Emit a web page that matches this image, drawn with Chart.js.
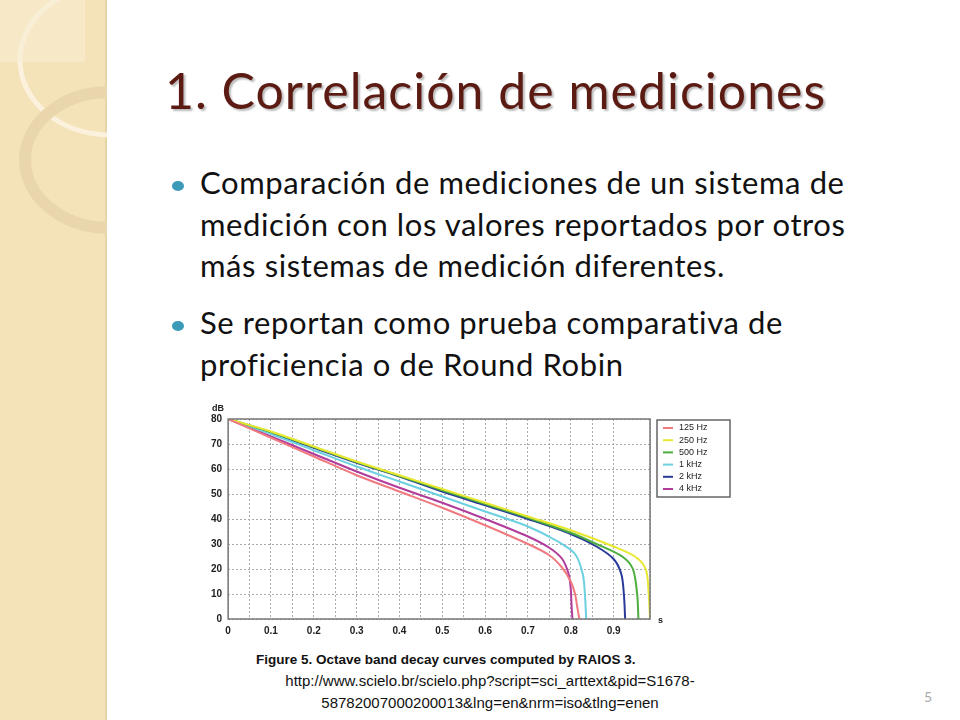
<!DOCTYPE html>
<html><head><meta charset="utf-8">
<script src="https://cdn.jsdelivr.net/npm/chart.js@4"></script>
<style>
body{margin:0;width:960px;height:720px;background:#fff;position:relative;overflow:hidden;font-family:Lato,"Open Sans",sans-serif}
#band{position:absolute;left:0;top:0;width:105px;height:720px;background:#f4e2b8;border-right:2px solid #e6d3a6}
#title{position:absolute;left:165px;top:60px;font-size:50px;letter-spacing:1px;color:#5b1a12;text-shadow:2px 2px 2px #bbb;white-space:nowrap}
.b{position:absolute;left:200px;font-size:31px;letter-spacing:0.6px;color:#111;line-height:41.5px;white-space:nowrap}
.dot{position:absolute;left:172px;width:12px;height:10px;border-radius:50%;background:#3a9ab8}
#cw{position:absolute;left:205px;top:395px;width:535px;height:248px}
#cap{position:absolute;left:256px;top:652px;font:bold 13.5px "Liberation Sans",Arial,sans-serif;color:#111}
#url{position:absolute;left:200px;top:670px;width:580px;text-align:center;font:15px "Liberation Sans",Arial,sans-serif;color:#111;line-height:22px}
#pg{position:absolute;left:924px;top:688px;font-size:14px;color:#aaa}
</style></head><body>
<div id="band"><svg width="107" height="720">
<ellipse cx="110" cy="60" rx="90" ry="75" fill="none" stroke="#fbf1dc" stroke-width="5"/>
<ellipse cx="110" cy="160" rx="85" ry="68" fill="none" stroke="#e9d6ac" stroke-width="12"/>
<rect x="0" y="0" width="85" height="62" fill="#f8ecd2" opacity="0.6"/>
</svg></div>
<div id="title">1. Correlación de mediciones</div>
<div class="dot" style="top:181px"></div>
<div class="b" style="top:162px">Comparación de mediciones de un sistema de<br>medición con los valores reportados por otros<br>más sistemas de medición diferentes.</div>
<div class="dot" style="top:321px"></div>
<div class="b" style="top:302px">Se reportan como prueba comparativa de<br>proficiencia o de Round Robin</div>
<div id="cw"><canvas id="c"></canvas></div>
<div id="cap">Figure 5. Octave band decay curves computed by RAIOS 3.</div>
<div id="url">http://www.scielo.br/scielo.php?script=sci_arttext&amp;pid=S1678-<br>58782007000200013&amp;lng=en&amp;nrm=iso&amp;tlng=enen</div>
<div id="pg">5</div>
<script>
const seriesNames=["125 Hz","250 Hz","500 Hz","1 kHz","2 kHz","4 kHz"];
const seriesColors=["#f07a80","#e8e830","#4cae3c","#6cd0e0","#2a3a9a","#b03c9c"];
const s125=[[0,80],[0.1,72.5],[0.2,65],[0.3,57.5],[0.4,51],[0.5,44.5],[0.6,37.5],[0.7,30],[0.75,25.5],[0.78,20.5],[0.8,15],[0.81,10],[0.815,5],[0.82,0]];
const s250=[[0,80],[0.1,75],[0.2,69],[0.3,63],[0.4,57.5],[0.5,52],[0.6,46.5],[0.7,41],[0.8,35.5],[0.9,29],[0.95,25],[0.975,20],[0.982,10],[0.985,0]];
const s500=[[0,80],[0.1,74.8],[0.2,68.8],[0.3,62.8],[0.4,57.2],[0.5,51.5],[0.6,46],[0.7,40.5],[0.8,34.5],[0.86,30],[0.92,25],[0.945,20],[0.955,10],[0.958,0]];
const s1k=[[0,80],[0.1,74],[0.2,67.5],[0.3,61],[0.4,55],[0.5,49],[0.6,43],[0.7,37],[0.77,31],[0.81,26],[0.828,18],[0.833,10],[0.836,0]];
const s2k=[[0,80],[0.1,74.5],[0.2,68.5],[0.3,62.5],[0.4,57],[0.5,51],[0.6,45.5],[0.7,40],[0.8,34],[0.86,29],[0.9,24],[0.918,18],[0.924,10],[0.927,0]];
const s4k=[[0,80],[0.1,73],[0.2,66],[0.3,59],[0.4,52.5],[0.5,46.5],[0.6,40],[0.7,33],[0.75,28.5],[0.78,24],[0.795,18],[0.8,12],[0.802,5],[0.804,0]];
const seriesData=[s125,s250,s500,s1k,s2k,s4k];
const extras={id:'ex',afterDraw(ch){const c=ch.ctx,a=ch.chartArea;c.save();
 c.strokeStyle='#777';c.lineWidth=1.5;c.strokeRect(a.left,a.top,a.right-a.left,a.bottom-a.top);
 c.fillStyle='#222';c.font='bold 9px "Liberation Sans"';c.textAlign='center';c.textBaseline='bottom';c.fillText('dB',a.left-10,a.top-6);
 c.textAlign='left';c.textBaseline='middle';c.fillText('s',a.right+8,a.bottom+2);
 const lx=a.right+7,ly=a.top+1,lw=73,lh=77;c.fillStyle='#fff';c.fillRect(lx,ly,lw,lh);c.strokeStyle='#666';c.lineWidth=1.5;c.strokeRect(lx,ly,lw,lh);
 c.font='9px "Liberation Sans"';
 ch.data.datasets.forEach((d,i)=>{const y=ly+8+i*12.2;c.strokeStyle=d.borderColor;c.lineWidth=2;c.beginPath();c.moveTo(lx+6,y);c.lineTo(lx+16,y);c.stroke();c.fillStyle='#222';c.fillText(d.label,lx+22,y);});
 c.restore();}};
new Chart(document.getElementById('c'),{type:'line',
data:{datasets:seriesData.map((d,i)=>({label:seriesNames[i],data:d.map(p=>({x:p[0],y:p[1]})),borderColor:seriesColors[i],backgroundColor:seriesColors[i],borderWidth:2,pointRadius:0,tension:0.3,fill:false}))},
options:{responsive:true,maintainAspectRatio:false,animation:false,
layout:{padding:{top:24,right:90}},
plugins:{legend:{display:false},tooltip:{enabled:false}},
scales:{x:{type:'linear',min:0,max:0.985,border:{display:false,dash:[2,2]},grid:{color:'#aaa',drawTicks:false},ticks:{stepSize:0.05,padding:6,color:'#222',font:{size:10,weight:'bold',family:'Liberation Sans'},callback:v=>{const r=Math.round(v*100);return r%10===0?(r/100).toString():'';}}},
y:{min:0,max:80,border:{display:false,dash:[2,2]},grid:{color:'#aaa',drawTicks:false},ticks:{stepSize:5,padding:6,color:'#222',font:{size:10,weight:'bold',family:'Liberation Sans'},callback:v=>v%10===0?v:''}}}},
plugins:[extras]});
</script>
</body></html>
